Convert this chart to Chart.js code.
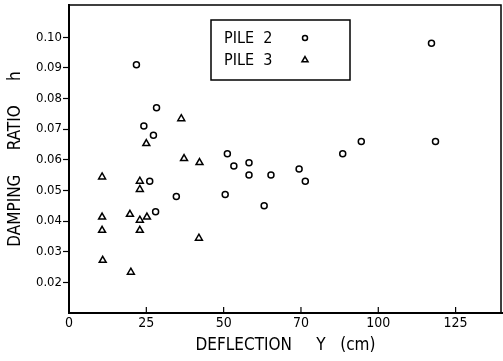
<!DOCTYPE html>
<html>
<head>
<meta charset="utf-8">
<script src="https://cdn.jsdelivr.net/npm/chart.js@4.4.1/dist/chart.umd.min.js"></script>
<style>
  html, body { margin: 0; padding: 0; background: #fff; }
  #wrap { width: 503px; height: 361px; }
</style>
</head>
<body>
<div id="wrap"><canvas id="chart"></canvas></div>
<script>
// Pile 2 (circles)
const pile2X = [21.8, 28.3, 24.2, 27.3, 26.1, 28.0, 34.7, 50.5, 51.2, 53.3, 58.2, 58.2, 65.3, 63.1, 74.4, 76.4, 88.5, 94.5, 117.2, 118.5];
const pile2Y = [0.091, 0.077, 0.071, 0.068, 0.053, 0.043, 0.048, 0.0487, 0.062, 0.058, 0.059, 0.055, 0.055, 0.045, 0.057, 0.053, 0.062, 0.066, 0.098, 0.066];

// Pile 3 (triangles)
const pile3X = [10.7, 25.0, 36.3, 37.2, 42.2, 22.9, 22.9, 10.7, 19.7, 22.9, 25.2, 10.7, 22.9, 42.0, 10.9, 20.0];
const pile3Y = [0.0544, 0.0653, 0.0734, 0.0604, 0.0591, 0.0530, 0.0503, 0.0413, 0.0422, 0.0403, 0.0413, 0.0370, 0.0370, 0.0344, 0.0272, 0.0233];

// axis ticks (the original figure labels the 75 mark as "70")
const xTickValues = [0, 25, 50, 75, 100, 125];
const xTickLabels = ["0", "25", "50", "70", "100", "125"];
const yTickValues = [0.02, 0.03, 0.04, 0.05, 0.06, 0.07, 0.08, 0.09, 0.10];
const yTickLabels = ["0.02", "0.03", "0.04", "0.05", "0.06", "0.07", "0.08", "0.09", "0.10"];

const seriesNames = ["PILE  2", "PILE  3"];

const FONT = '"DejaVu Sans Condensed", "Liberation Sans Narrow", "Liberation Sans", sans-serif';

function toPoints(xs, ys) {
    return xs.map((x, i) => ({ x: x, y: ys[i] }));
}

// frame, inward x ticks and the boxed legend
const extras = {
    id: 'extras',
    afterDraw(chart) {
        const ctx = chart.ctx;
        const a = chart.chartArea;
        ctx.save();
        ctx.strokeStyle = '#000';
        ctx.lineWidth = 1.5;
        ctx.beginPath();
        ctx.moveTo(a.left, a.top);
        ctx.lineTo(a.right - 1, a.top);
        ctx.lineTo(a.right - 1, a.bottom);
        ctx.stroke();

        // inward ticks on x
        const xs = chart.scales.x;
        ctx.lineWidth = 1.2;
        xTickValues.forEach(v => {
            const px = xs.getPixelForValue(v);
            ctx.beginPath();
            ctx.moveTo(px, a.bottom);
            ctx.lineTo(px, a.bottom - 6);
            ctx.stroke();
        });

        // legend
        ctx.lineWidth = 1.5;
        ctx.strokeRect(211, 20, 139, 60);
        ctx.font = '16px ' + FONT;
        ctx.textBaseline = 'middle';
        ctx.textAlign = 'left';
        const rows = [38, 60];
        chart.data.datasets.forEach((ds, i) => {
            ctx.fillStyle = '#000';
            ctx.fillText(seriesNames[i], 224, rows[i] + 1);
            ctx.fillStyle = '#fff';
            ctx.strokeStyle = '#000';
            ctx.lineWidth = ds.borderWidth;
            Chart.helpers.drawPoint(ctx, {
                pointStyle: ds.pointStyle,
                radius: ds.pointRadius - 0.5,
                borderWidth: ds.borderWidth
            }, 305, rows[i]);
        });
        ctx.restore();
    }
};

function noPad(s) {
    s.paddingTop = 0;
    s.paddingBottom = 0;
    s.paddingLeft = 0;
    s.paddingRight = 0;
}

new Chart(document.getElementById('chart'), {
    type: 'scatter',
    data: {
        datasets: [
            {
                label: seriesNames[0],
                data: toPoints(pile2X, pile2Y),
                pointStyle: 'circle',
                pointRadius: 3,
                borderWidth: 1.5,
                borderColor: '#000',
                backgroundColor: '#fff'
            },
            {
                label: seriesNames[1],
                data: toPoints(pile3X, pile3Y),
                pointStyle: 'triangle',
                pointRadius: 4,
                borderWidth: 1.5,
                borderColor: '#000',
                backgroundColor: '#fff'
            }
        ]
    },
    options: {
        responsive: true,
        maintainAspectRatio: false,
        animation: false,
        layout: { autoPadding: false, padding: { left: 0, right: 1, top: 5, bottom: 0 } },
        plugins: {
            legend: { display: false },
            tooltip: { enabled: false }
        },
        scales: {
            x: {
                type: 'linear',
                min: 0,
                max: 140,
                afterBuildTicks: s => { s.ticks = xTickValues.map(v => ({ value: v })); },
                afterFit: s => { s.height = 48; noPad(s); },
                ticks: {
                    color: '#000',
                    font: { family: FONT, size: 14 },
                    padding: 2,
                    maxRotation: 0,
                    callback: (v, i) => xTickLabels[i]
                },
                grid: { display: true, drawOnChartArea: false, drawTicks: false, tickLength: 0 },
                border: { display: true, color: '#000', width: 2 },
                title: {
                    display: true,
                    text: 'DEFLECTION     Y   (cm)',
                    color: '#000',
                    font: { family: FONT, size: 17 },
                    padding: { top: 0, bottom: 5 }
                }
            },
            y: {
                type: 'linear',
                min: 0.01,
                max: 0.1105,
                afterBuildTicks: s => { s.ticks = yTickValues.map(v => ({ value: v })); },
                afterFit: s => { s.width = 69; noPad(s); },
                ticks: {
                    color: '#000',
                    font: { family: FONT, size: 13 },
                    padding: 1,
                    callback: (v, i) => yTickLabels[i]
                },
                grid: { display: true, drawOnChartArea: false, tickLength: 6, color: '#000', tickWidth: 1.2 },
                border: { display: true, color: '#000', width: 2 },
                title: {
                    display: true,
                    text: 'DAMPING     RATIO     h',
                    color: '#000',
                    font: { family: FONT, size: 17 },
                    padding: { top: 5, bottom: 0 }
                }
            }
        }
    },
    plugins: [extras]
});
</script>
</body>
</html>
